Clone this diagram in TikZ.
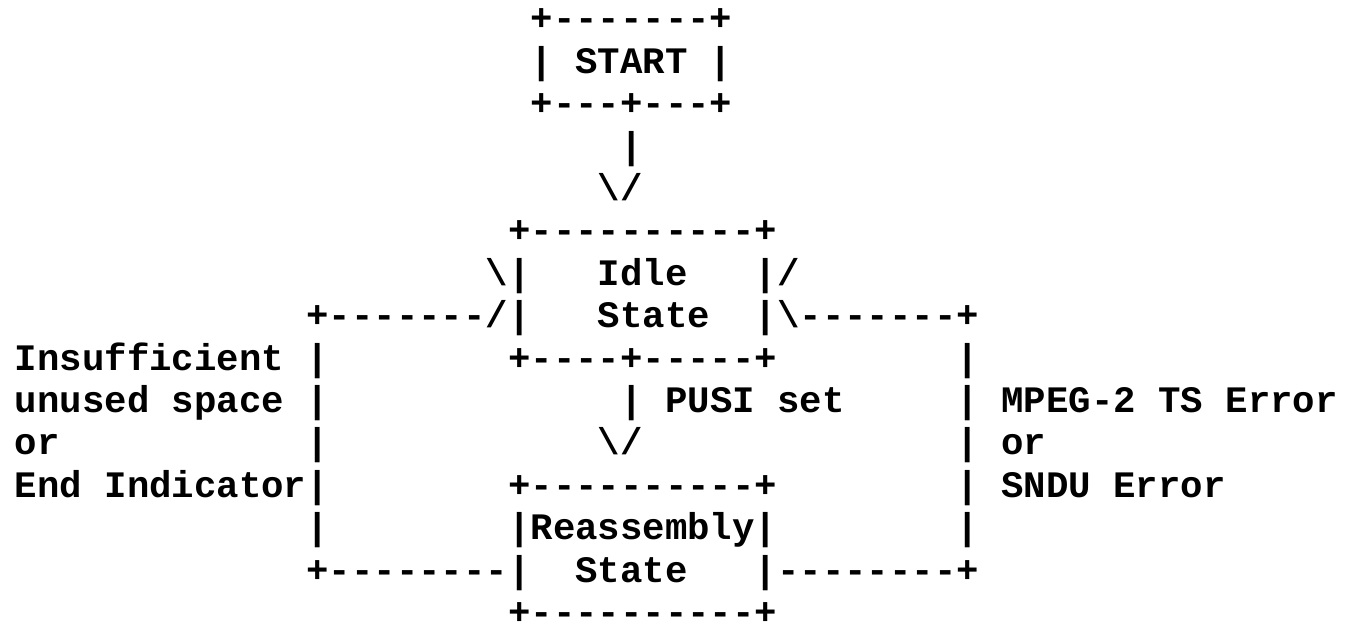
\documentclass[tikz,border=0pt]{standalone}
\usepackage{fontspec}
\setmonofont{Liberation Mono}
\newcommand\bs{\textbackslash}
\begin{document}
\begin{tikzpicture}[
  txt/.style={anchor=base west, inner sep=0pt, outer sep=0pt,
    font=\fontsize{18.68pt}{20pt}\selectfont\ttfamily\bfseries, text=black}
]
\newcommand\seg[5][]{\node[txt,#1] (#2) at ({7.5pt+#4*11.21pt},{-15.4pt-(#3-1)*21.2pt}) {#5};}
\useasboundingbox[fill=white] (0,0) rectangle (672.5pt,-314pt);
% START box
\seg{s1}{1}{23}{+-------+}
\seg{s2}{2}{23}{| START |}
\seg{s3}{3}{23}{+---+---+}
\seg{s4}{4}{27}{|}
\seg{s5}{5}{26}{\bs/}
% Idle state
\seg{i1}{6}{22}{+----------+}
\seg{i2}{7}{21}{\bs|}
\seg{i3}{7}{26}{Idle}
\seg{i4}{7}{33}{|/}
\seg{i5}{8}{13}{+-------/|}
\seg{i6}{8}{26}{State}
\seg{i7}{8}{33}{|\bs-------+}
\seg{i8}{9}{0}{Insufficient |}
\seg{i9}{9}{22}{+----+-----+}
\seg{i10}{9}{42}{|}
% middle
\seg{m1}{10}{0}{unused space |}
\seg{m2}{10}{27}{| PUSI set}
\seg{m3}{10}{42}{| MPEG-2 TS Error}
\seg{m4}{11}{0}{or}
\seg{m5}{11}{13}{|}
\seg{m6}{11}{26}{\bs/}
\seg{m7}{11}{42}{| or}
% Reassembly state
\seg{r1}{12}{0}{End Indicator|}
\seg{r2}{12}{22}{+----------+}
\seg{r3}{12}{42}{| SNDU Error}
\seg{r4}{13}{13}{|}
\seg{r5}{13}{22}{|Reassembly|}
\seg{r6}{13}{42}{|}
\seg{r7}{14}{13}{+--------|}
\seg{r8}{14}{25}{State}
\seg{r9}{14}{33}{|--------+}
\seg[text depth=0pt]{r10}{15}{22}{+----------+}
\end{tikzpicture}
\end{document}
